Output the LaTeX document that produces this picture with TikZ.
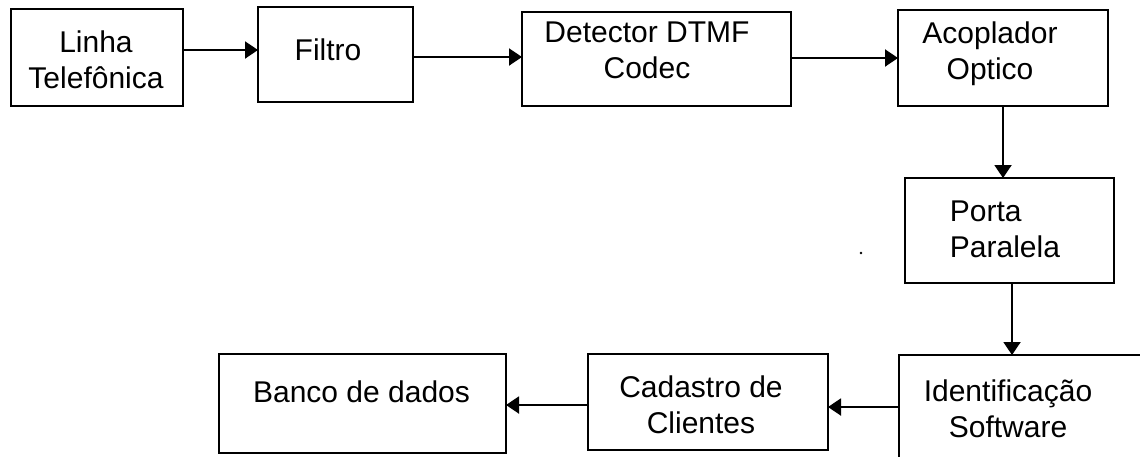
\documentclass[tikz,border=0pt]{standalone}
\usepackage{fontspec}
\setmainfont{Liberation Sans}
\usetikzlibrary{arrows.meta}
\begin{document}
\begin{tikzpicture}[x=1pt,y=-1pt,
 box/.style={draw=black,line width=2pt,inner sep=0pt,outer sep=0pt},
 txt/.style={font=\fontsize{30}{36}\selectfont,align=center,inner sep=0pt,text=black},
 arr/.style={line width=2pt,-{Triangle[length=13pt,width=17pt]}}]
\useasboundingbox (0,0) rectangle (1140,456);
% boxes
\node[box,minimum width=172pt,minimum height=97pt] (b1) at (97,57.5) {};
\node[box,minimum width=155pt,minimum height=95pt] (b2) at (335.5,54.5) {};
\node[box,minimum width=269pt,minimum height=94pt] (b3) at (656.5,59) {};
\node[box,minimum width=210pt,minimum height=96pt] (b4) at (1003,58) {};
\node[box,minimum width=209pt,minimum height=105pt] (b5) at (1009.5,230.5) {};
\node[box,minimum width=281pt,minimum height=125pt] (b6) at (1039.5,417.5) {};
\node[box,minimum width=240pt,minimum height=96pt] (b7) at (708,402) {};
\node[box,minimum width=287pt,minimum height=99pt] (b8) at (362.5,403.5) {};
% texts
\node[txt] (t1) at (96,60) {Linha\\Telefônica};
\node[txt] (t2) at (328,50) {Filtro};
\node[txt] (t3) at (647,50.5) {Detector DTMF\\Codec};
\node[txt] (t4) at (990,53.5) {Acoplador\\Optico};
\node[txt,align=left] (t5) at (1005,229.5) {Porta\\Paralela};
\node[txt] (t6) at (1008,408.5) {Identificação\\Software};
\node[txt] (t7) at (701,405) {Cadastro de\\Clientes};
\node[txt] (t8) at (361.5,392) {Banco de dados};
% stray dot
\fill (861,253) circle (1.3pt);
% connectors
\draw[arr] (b1.east |- 0,50) -- (b2.west |- 0,50);
\draw[arr] (b2.east |- 0,57) -- (b3.west |- 0,57);
\draw[arr] (b3.east |- 0,58) -- (b4.west |- 0,58);
\draw[arr] (b4.south) -- (b5.north -| b4.south);
\draw[arr] (b5.south -| 1012,0) -- (b6.north -| 1012,0);
\draw[arr] (b6.west |- 0,407) -- (b7.east |- 0,407);
\draw[arr] (b7.west |- 0,405) -- (b8.east |- 0,405);
\end{tikzpicture}
\end{document}
